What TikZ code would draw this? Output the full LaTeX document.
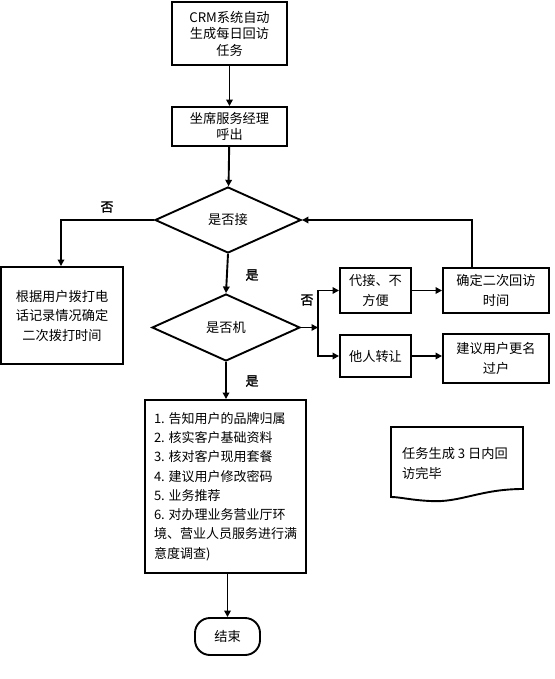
\documentclass[tikz,border=0pt]{standalone}
\usepackage{fontspec}
\setmainfont{Noto Sans CJK SC}
\newfontfamily\labfont{Noto Sans CJK SC}[BoldFont={Noto Sans CJK SC},BoldFeatures={FakeBold=1.5}]
\usetikzlibrary{shapes.geometric,arrows.meta}
\begin{document}
\begin{tikzpicture}[x=1pt,y=-1pt,
  every node/.style={font=\fontsize{13.2}{16.5}\selectfont, inner sep=0pt},
  box/.style={draw, line width=1.9pt, align=center},
  dia/.style={draw, diamond, line width=1.9pt, align=center},
  lab/.style={font=\labfont\bfseries\fontsize{13}{15}\selectfont},
  arr/.style={line width=1.9pt, -{Triangle[length=6.5pt,width=6.5pt]}},
  ln/.style={line width=1.9pt}]
\useasboundingbox (0,0) rectangle (554,679);
\node[box, minimum width=115pt, minimum height=63pt] (b1) at (229.5,33.5) {CRM系统自动\\生成每日回访\\任务};
\node[box, minimum width=115pt, minimum height=39pt] (b2) at (229.5,126.5) {坐席服务经理\\呼出};
\node[dia, minimum width=146pt, minimum height=66pt] (d1) at (228,220) {是否接};
\node[box, minimum width=122pt, minimum height=97pt, font=\fontsize{13.2}{19.5}\selectfont] (b3) at (62,315.5) {根据用户拨打电\\话记录情况确定\\二次拨打时间};
\node[dia, minimum width=148pt, minimum height=67pt] (d2) at (226,327.5) {是否机};
\node[box, minimum width=71pt, minimum height=45pt, font=\fontsize{13.2}{19.5}\selectfont] (b5) at (375.5,290.5) {代接、不\\方便};
\node[box, minimum width=106pt, minimum height=45pt, font=\fontsize{13.2}{19.5}\selectfont] (b6) at (496,290.5) {确定二次回访\\时间};
\node[box, minimum width=71pt, minimum height=42pt] (b7) at (375.5,356) {他人转让};
\node[box, minimum width=106pt, minimum height=49pt, font=\fontsize{13.2}{19.5}\selectfont] (b8) at (496,358.5) {建议用户更名\\过户};
\node[box, minimum width=161pt, minimum height=173pt, align=left, font=\fontsize{13}{19.3}\selectfont] (b4) at (225.5,486.5) {1. 告知用户的品牌归属\\2. 核实客户基础资料\\3. 核对客户现用套餐\\4. 建议用户修改密码\\5. 业务推荐\\6. 对办理业务营业厅环\\境、营业人员服务进行满\\意度调查)};
\node[draw, line width=1.9pt, rounded corners=15pt, minimum width=65pt, minimum height=37pt] (e) at (227.5,636.5) {结束};
% document shape
\draw[ln] (391,427) -- (523,427) -- (523,489)
  .. controls (480,489) and (460,503) .. (430,501)
  .. controls (410,500) and (400,497) .. (391,497) -- cycle;
\node[anchor=north west, align=left, font=\fontsize{13.2}{20}\selectfont] (dt) at (402,447) {任务生成 3 日内回\\访完毕};
% connectors
\coordinate (j1) at (61,220);
\coordinate (j2) at (318,327.5);
\coordinate (j3) at (472,220);
\draw[arr] (b1) -- (b2);
\draw[arr] (b2) -- (d1);
\draw[arr] (d1.west) -- (j1) -- (b3.north -| j1);
\draw[arr] (d1.south) -- (d2.north);
\draw[arr] (d2.east) -- (j2);
\draw[arr] (j2) |- (b5.west);
\draw[arr] (j2) |- (b7.west);
\draw[arr] (b5) -- (b6);
\draw[arr] (b7.east) -- (b8.west |- b7.east);
\draw[arr] (b6.north -| j3) -- (j3) -- (d1.east);
\draw[arr] (d2.south) -- (b4.north -| d2.south);
\draw[arr] (b4.south -| e.north) -- (e.north);
% labels
\node[lab] (l1) at (107,207) {否};
\node[lab] (l2) at (252,275) {是};
\node[lab] (l3) at (307,300) {否};
\node[lab] (l4) at (252,381) {是};
\end{tikzpicture}
\end{document}
